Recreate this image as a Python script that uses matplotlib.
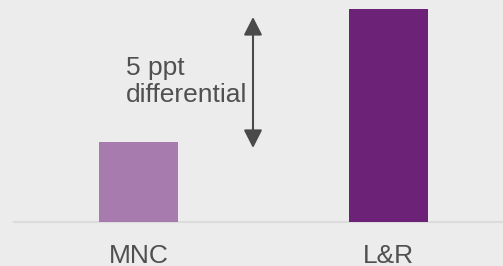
import matplotlib.pyplot as plt
from matplotlib.patches import FancyArrowPatch

# datos
categories = ['MNC', 'L&R']
values = [3, 8]
bar_colors = ['#A87BAF', '#6C2377']
note = '5 ppt\ndifferential'

bg = '#ECECEC'
txt = '#505050'

plt.rcParams['font.family'] = ['Liberation Sans', 'DejaVu Sans']

fig = plt.figure(figsize=(5.03, 2.66), dpi=100, facecolor=bg)
ax = fig.add_axes([14 / 503, 44 / 266, 489 / 503, 213 / 266])
ax.set_facecolor(bg)

x = range(len(categories))
ax.bar(x, values, width=0.316, color=bar_colors, zorder=2)

ax.set_xlim(-0.498, 1.458)
ax.set_ylim(0, 8)

# linea base
ax.axhline(0, color='#DCDCDC', lw=1.5, zorder=1, clip_on=False)

for s in ax.spines.values():
    s.set_visible(False)
ax.set_yticks([])
ax.set_xticks(list(x))
ax.set_xticklabels(categories, fontsize=19, color=txt)
ax.tick_params(axis='x', length=0, pad=15.5)

# flecha de diferencia
arrow = FancyArrowPatch((0.458, 2.78), (0.458, 7.70),
                        arrowstyle='<|-|>,head_length=0.55,head_width=0.28',
                        mutation_scale=20, color='#4A4A4A', lw=1.5,
                        shrinkA=0, shrinkB=0)
ax.add_patch(arrow)

ax.text(-0.05, 6.25, note, fontsize=19, color=txt, ha='left', va='top',
        linespacing=1.2)

fig.savefig('out.png', dpi=100, facecolor=bg)
